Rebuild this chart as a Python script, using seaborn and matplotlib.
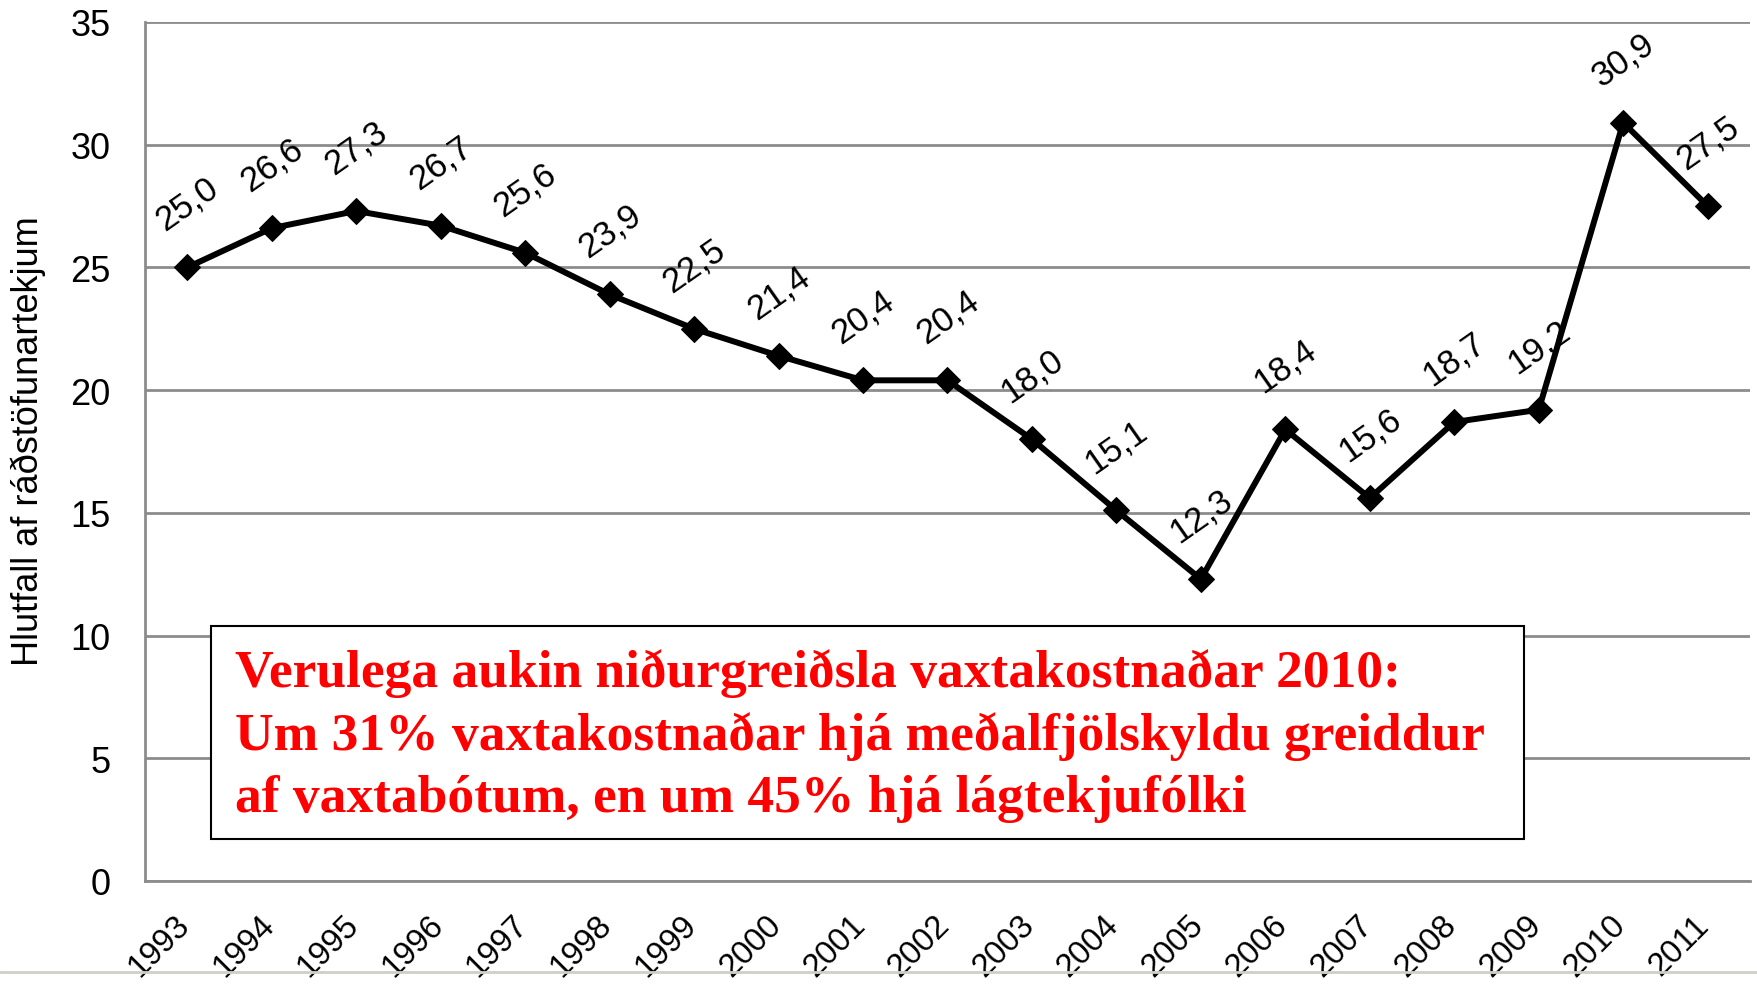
import matplotlib
matplotlib.use("Agg")
import matplotlib.pyplot as plt
import matplotlib.transforms as mtransforms
from matplotlib.patches import Rectangle
from matplotlib.lines import Line2D
import numpy as np
import pandas as pd
import seaborn as sns

years = [1993, 1994, 1995, 1996, 1997, 1998, 1999, 2000, 2001, 2002,
         2003, 2004, 2005, 2006, 2007, 2008, 2009, 2010, 2011]
values = [25.0, 26.6, 27.3, 26.7, 25.6, 23.9, 22.5, 21.4, 20.4, 20.4,
          18.0, 15.1, 12.3, 18.4, 15.6, 18.7, 19.2, 30.9, 27.5]
y_ticks = [0, 5, 10, 15, 20, 25, 30, 35]
y_label = "Hlutfall af ráðstöfunartekjum"
note_lines = [
    "Verulega aukin niðurgreiðsla vaxtakostnaðar 2010:",
    "Um 31% vaxtakostnaðar hjá meðalfjölskyldu greiddur",
    "af vaxtabótum, en um 45% hjá lágtekjufólki",
]

sns.set_style("white")
plt.rcParams["font.family"] = ["Liberation Sans", "DejaVu Sans"]
plt.rcParams["text.color"] = "black"
plt.rcParams["xtick.color"] = "black"
plt.rcParams["ytick.color"] = "black"

df = pd.DataFrame({"year": years, "value": values})
grid_col = "#8c8c8c"

fig = plt.figure(figsize=(17.58, 9.87), dpi=100)
ax = fig.add_axes([0.0825, 0.1064, 0.9129, 0.8703])

ax.set_xlim(years[0] - 0.5, years[-1] + 0.5)
ax.set_ylim(0, 35)
ax.set_yticks(y_ticks)
ax.yaxis.grid(True, color=grid_col, linewidth=2)
ax.set_axisbelow(True)

sns.lineplot(data=df, x="year", y="value", ax=ax, color="black", linewidth=4.3,
             marker="D", markersize=13, markeredgecolor="black", zorder=3)

# value labels, comma as decimal sign
for yr, v in zip(years, values):
    ax.annotate(f"{v:.1f}".replace(".", ","), (yr, v), xytext=(0, 46),
                textcoords="offset points", ha="center", va="center",
                rotation=35, fontsize=25, color="black", zorder=4)

# tick marks on category boundaries, labels at centres
bounds = np.arange(years[0] - 0.5, years[-1] + 1.0, 1.0)
ax.set_xticks(bounds)
ax.set_xticklabels([])
ax.set_xticks(years, minor=True)
ax.set_xticklabels([str(y) for y in years], minor=True, rotation=45,
                   ha="center", va="center", rotation_mode="anchor", fontsize=23.5)
ax.tick_params(axis="x", which="major", length=8, width=2, color=grid_col, direction="out")
ax.tick_params(axis="x", which="minor", length=0, pad=0, labelcolor="black")
ax.tick_params(axis="y", length=8, width=2, color=grid_col, labelsize=26, pad=17,
               labelcolor="black")
shift = mtransforms.ScaledTranslation(-0.28, -0.64, fig.dpi_scale_trans)
for lbl in ax.get_xticklabels(minor=True):
    lbl.set_transform(lbl.get_transform() + shift)

for side in ["top", "right"]:
    ax.spines[side].set_visible(False)
for side in ["left", "bottom"]:
    ax.spines[side].set_color(grid_col)
    ax.spines[side].set_linewidth(2)

ax.set_xlabel("")
ax.set_ylabel(y_label, fontsize=26, color="black")
ax.yaxis.set_label_coords(-0.062, 0.513)

ax.add_patch(Rectangle((0.0411, 0.0489), 0.818, 0.248, transform=ax.transAxes,
                       fill=True, facecolor="white", edgecolor="black",
                       linewidth=1.5, zorder=5))
ax.text(0.056, 0.271, "\n".join(note_lines), transform=ax.transAxes,
        ha="left", va="top", color="#ff0000", fontsize=38.5, fontweight="bold",
        family=["Liberation Serif", "DejaVu Serif"], linespacing=1.37, zorder=6)

fig.add_artist(Line2D([0, 1], [0.014, 0.014], transform=fig.transFigure,
                      color="#cfcfc8", linewidth=2))

fig.savefig("out.png", dpi=100)
